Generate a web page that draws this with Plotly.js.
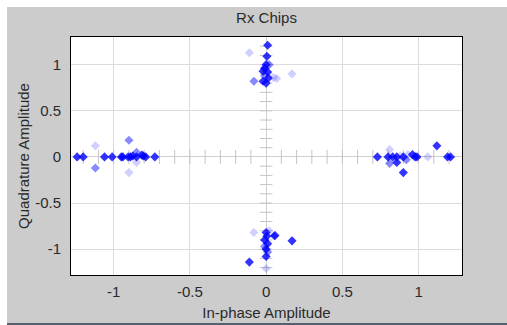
<!DOCTYPE html>
<html>
<head>
<meta charset="utf-8">
<script src="https://cdn.plot.ly/plotly-3.0.1.min.js"></script>
<style>
html,body{margin:0;padding:0;background:#ffffff;width:507px;height:325px;overflow:hidden;}
#frame{position:absolute;left:7px;top:7px;width:500px;height:316px;background:#cccccc;border-bottom:2px solid #56606e;}
#chart{width:500px;height:316px;}
</style>
</head>
<body>
<div id="frame"><div id="chart"></div></div>
<script>
// Strong (dark) chips
const darkI = [-1.24,-1.20,-1.06,-1.01,-0.95,-0.94,-0.905,-0.89,-0.875,-0.85,-0.815,-0.805,-0.79,-0.73,
  0.73,0.80,0.83,0.857,0.857,0.90,0.90,0.96,0.977,0.99,1.12,1.19,1.21,
  0.01,0.005,0.0,-0.01,0.01,-0.02,0.015,-0.02,0.0,
  0.0,0.005,-0.01,0.01,0.0,0.17,-0.11,0.0,0.055];
const darkQ = [0,0,0,0,0,0,0,0,0.01,0,0.02,0.01,0,0,
  0,0,0,0,-0.06,0,-0.17,0.025,0,0,0.12,0,0,
  1.21,1.09,1.0,0.96,0.92,0.93,0.855,0.82,0.80,
  -0.82,-0.86,-0.9,-0.94,-1.0,-0.91,-1.14,-1.08,-0.855];
// Medium chips
const midI = [-1.12,-0.90,-0.85,0.81,0.92,-0.08,0.02,-0.01,0.06,-0.01,0.01];
const midQ = [-0.12,0.18,0.05,-0.07,-0.03,0.82,1.0,0.88,-0.85,-0.97,-1.03];
// Faint chips
const lightI = [-1.12,-0.90,-0.85,0.81,0.93,1.06,0.88,-0.11,0.17,0.05,0.07,-0.08,0.0,0.02];
const lightQ = [0.12,-0.17,-0.06,0.08,0.025,0,0.01,1.13,0.90,0.86,0.85,-0.82,-1.21,-0.80];

const xTickVals = [-1,-0.5,0,0.5,1];
const xTickText = ['-1','-0.5','0','0.5','1'];
const yTickVals = [-1,-0.5,0,0.5,1];
const yTickText = ['-1','-0.5','0','0.5','1'];

// crosshair minor ticks (decoration)
const hx = [], hy = [], vx = [], vy = [];
for (let k = -12; k <= 12; k++) {
  if (k === 0) continue;
  hx.push(k/10); hy.push(0);
  vx.push(0); vy.push(k/10);
}

const font = {family: 'Liberation Sans, Arial, sans-serif', size: 15, color: '#2a2a2a'};

const traces = [
  {x: hx, y: hy, mode: 'markers', type: 'scatter', hoverinfo: 'skip',
   marker: {symbol: 'line-ns', size: 10, line: {color: '#c4c4c4', width: 1}}},
  {x: vx, y: vy, mode: 'markers', type: 'scatter', hoverinfo: 'skip',
   marker: {symbol: 'line-ew', size: 9, line: {color: '#c4c4c4', width: 1}}},
  {x: lightI, y: lightQ, mode: 'markers', type: 'scatter',
   marker: {symbol: 'diamond', size: 7, color: 'rgba(40,40,255,0.22)', line: {width: 0}}},
  {x: midI, y: midQ, mode: 'markers', type: 'scatter',
   marker: {symbol: 'diamond', size: 7, color: 'rgba(20,20,255,0.5)', line: {width: 0}}},
  {x: darkI, y: darkQ, mode: 'markers', type: 'scatter',
   marker: {symbol: 'diamond', size: 7, color: 'rgba(0,0,255,0.8)', line: {width: 0}}}
];

const layout = {
  width: 500, height: 316,
  margin: {l: 64, r: 45, t: 30, b: 48},
  paper_bgcolor: '#cccccc',
  plot_bgcolor: '#ffffff',
  showlegend: false,
  font: font,
  title: {text: 'Rx Chips', font: font,
          x: 0.5, xref: 'paper', y: 0.965, yref: 'container', yanchor: 'middle'},
  xaxis: {range: [-1.28, 1.285], tickvals: xTickVals, ticktext: xTickText,
          showgrid: true, gridcolor: '#dcdcdc', zeroline: true, zerolinecolor: '#cfcfcf', zerolinewidth: 1,
          showline: true, linecolor: '#000000', linewidth: 1, mirror: true,
          ticks: 'outside', ticklen: 3, tickcolor: 'rgba(0,0,0,0)',
          title: {text: 'In-phase Amplitude', font: font, standoff: 8}},
  yaxis: {range: [-1.28, 1.30], tickvals: yTickVals, ticktext: yTickText,
          showgrid: true, gridcolor: '#dcdcdc', zeroline: true, zerolinecolor: '#cfcfcf', zerolinewidth: 1,
          showline: true, linecolor: '#000000', linewidth: 1, mirror: true,
          ticks: 'outside', ticklen: 6, tickcolor: 'rgba(0,0,0,0)',
          title: {text: 'Quadrature Amplitude', font: font, standoff: 1}}
};

Plotly.newPlot('chart', traces, layout, {displayModeBar: false, staticPlot: true});
</script>
</body>
</html>
